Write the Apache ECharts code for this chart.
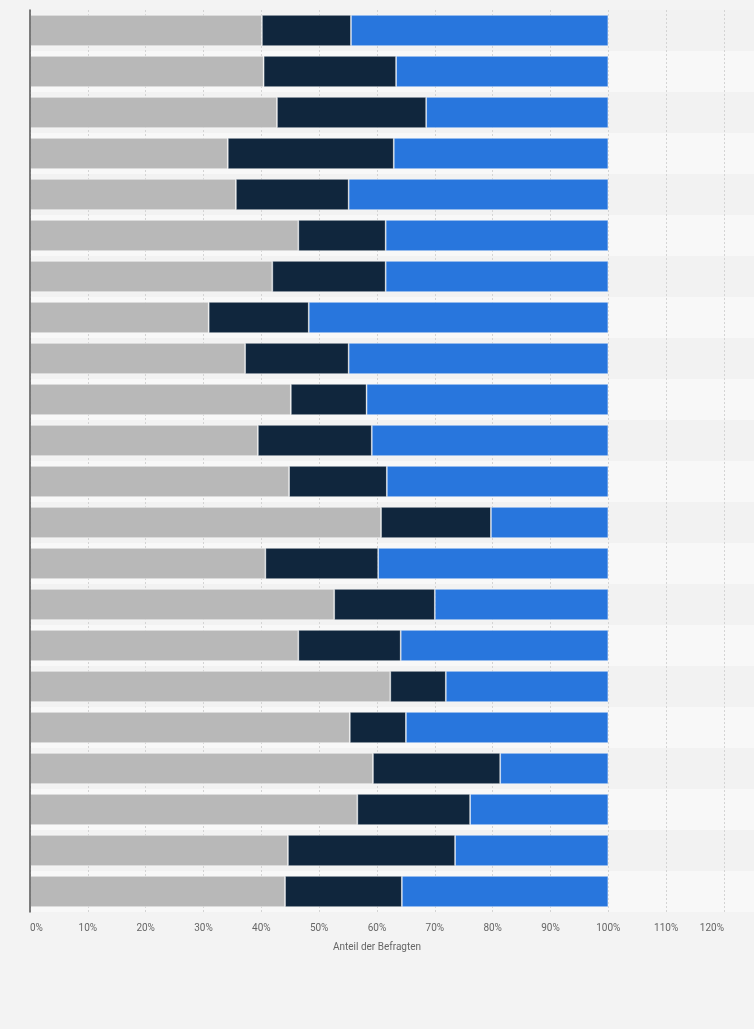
<!DOCTYPE html>
<html>
<head>
<meta charset="utf-8">
<script src="https://cdn.jsdelivr.net/npm/echarts@6/dist/echarts.min.js"></script>
<style>
html, body { margin: 0; padding: 0; background: #f3f3f3; }
#chart { width: 754px; height: 1029px; }
</style>
</head>
<body>
<div id="chart"></div>
<script>
// Zeilen (Beschriftungen im Original nicht sichtbar)
var categories = ['1', '2', '3', '4', '5', '6', '7', '8', '9', '10', '11',
	'12', '13', '14', '15', '16', '17', '18', '19', '20', '21', '22'];

var greyValues = [40.1, 40.4, 42.7, 34.2, 35.6, 46.4, 41.9, 30.9, 37.2, 45.1, 39.4,
	44.8, 60.7, 40.7, 52.6, 46.4, 62.3, 55.3, 59.3, 56.6, 44.6, 44.1];
var navyValues = [15.4, 22.9, 25.8, 28.7, 19.5, 15.1, 19.6, 17.3, 17.9, 13.1, 19.7,
	16.9, 19.0, 19.5, 17.4, 17.7, 9.6, 9.7, 22.0, 19.5, 28.9, 20.2];
var blueValues = [44.5, 36.7, 31.5, 37.1, 44.9, 38.5, 38.5, 51.8, 44.9, 41.8, 40.9,
	38.3, 20.3, 39.8, 30.0, 35.9, 28.1, 35.0, 18.7, 23.9, 26.5, 35.7];

var xTicks = [0, 10, 20, 30, 40, 50, 60, 70, 80, 90, 100, 110, 120];

function barSeries(values, color) {
	return {
		type: 'bar',
		stack: 'total',
		xAxisIndex: 1,
		yAxisIndex: 1,
		barCategoryGap: '24%',
		z: 3,
		itemStyle: {
			color: color,
			borderColor: 'rgba(255,255,255,0.55)',
			borderWidth: 0.8
		},
		data: values
	};
}

var chart = echarts.init(document.getElementById('chart'));
chart.setOption({
	backgroundColor: '#f3f3f3',
	animation: false,
	grid: [
		// Hintergrundstreifen bis zum rechten Rand
		{ left: 30, right: 0, top: 10, bottom: 117 },
		{ left: 30, right: 30, top: 10, bottom: 117 }
	],
	xAxis: [
		{
			gridIndex: 0, type: 'value', min: 0, max: 1, show: false,
			splitLine: { show: false }, axisLine: { show: false }
		},
		{
			gridIndex: 1,
			type: 'value',
			min: xTicks[0],
			max: xTicks[xTicks.length - 1],
			interval: 10,
			z: 2,
			name: 'Anteil der Befragten',
			nameLocation: 'middle',
			nameGap: 30,
			nameTextStyle: { color: '#666', fontSize: 10, fontFamily: 'Roboto' },
			axisLine: { show: false },
			axisTick: { show: false },
			axisLabel: {
				color: '#666',
				fontSize: 10,
				fontFamily: 'Roboto',
				margin: 11,
				alignMinLabel: 'left',
				alignMaxLabel: 'right',
				formatter: '{value}%'
			},
			splitLine: {
				show: true,
				lineStyle: { color: '#d4d4d4', width: 1, type: [2, 2] }
			}
		}
	],
	yAxis: [
		{
			gridIndex: 0,
			type: 'category',
			inverse: true,
			data: categories,
			z: 1,
			axisLine: { show: false },
			axisTick: { show: false },
			axisLabel: { show: false },
			splitLine: { show: false },
			splitArea: { show: true, areaStyle: { color: ['#f2f2f2', '#f8f8f8'] } }
		},
		{
			gridIndex: 1,
			type: 'category',
			inverse: true,
			data: categories,
			z: 4,
			axisLine: { show: true, lineStyle: { color: '#555', width: 1.5 } },
			axisTick: { show: false },
			axisLabel: { show: false },
			splitLine: { show: false }
		}
	],
	series: [
		barSeries(greyValues, '#b8b8b8'),
		barSeries(navyValues, '#10263d'),
		barSeries(blueValues, '#2876dd')
	]
});
</script>
</body>
</html>
